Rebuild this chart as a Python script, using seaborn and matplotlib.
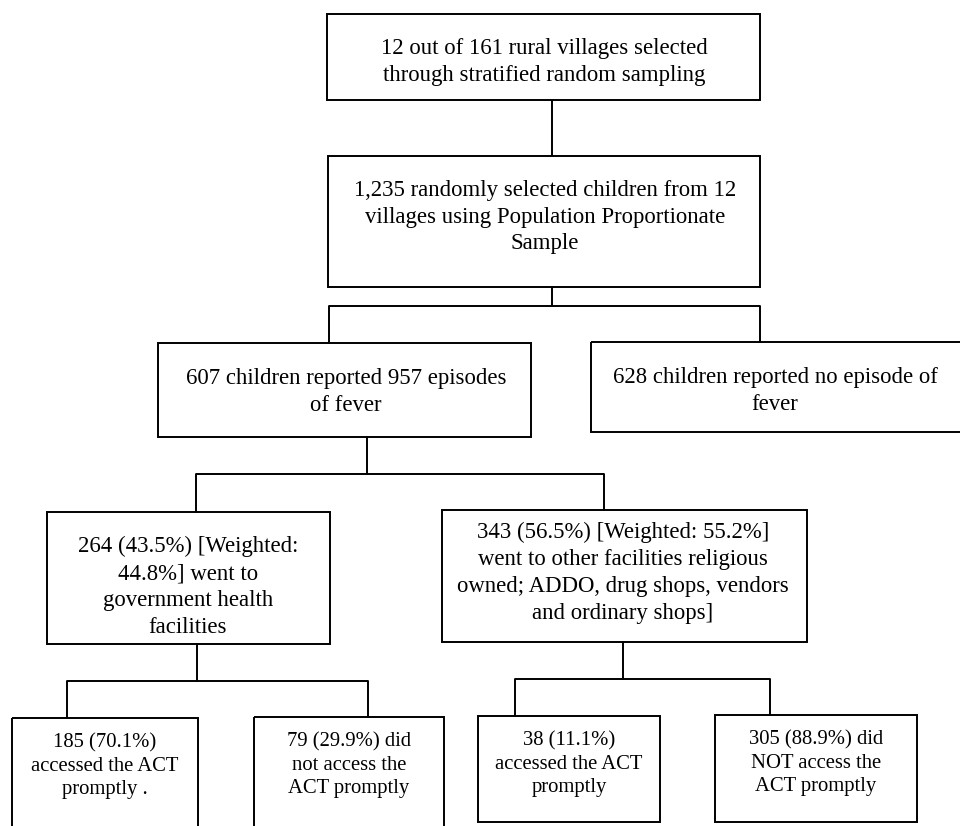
import matplotlib
matplotlib.use("Agg")
import matplotlib.pyplot as plt
from matplotlib.patches import Rectangle
import seaborn as sns

# box texts, top to bottom
level1 = ["12 out of 161 rural villages selected\nthrough stratified random sampling"]
level2 = ["1,235 randomly selected children from 12\nvillages using Population Proportionate\nSample"]
level3 = ["607 children reported 957 episodes\nof fever",
          "628 children reported no episode of\nfever"]
level4 = ["264 (43.5%) [Weighted:\n44.8%] went to\ngovernment health\nfacilities",
          "343 (56.5%) [Weighted: 55.2%]\nwent to other facilities religious\nowned; ADDO, drug shops, vendors\nand ordinary shops]"]
level5 = ["185 (70.1%)\naccessed the ACT\npromptly .",
          "79 (29.9%) did\nnot access the\nACT promptly",
          "38 (11.1%)\naccessed the ACT\npromptly",
          "305 (88.9%) did\nNOT access the\nACT promptly"]

# layout in pixel units (x0, y0, x1, y1), y grows downwards
boxes = [
    (327, 14, 760, 100),
    (328, 156, 760, 287),
    (158, 343, 531, 437),
    (591, 342, 965, 432),
    (47, 512, 330, 644),
    (442, 510, 807, 642),
    (12, 718, 198, 835),
    (254, 717, 444, 835),
    (478, 716, 660, 822),
    (715, 715, 917, 822),
]
labels = level1 + level2 + level3 + level4 + level5
# text anchor (centre x, centre y) for the upper boxes
text_pos = [(544, 62), (545, 217), (346, 392), (775, 391), (188, 587), (623, 573)]

connectors = [
    [(552, 100), (552, 156)],
    [(552, 287), (552, 306)],
    [(329, 343), (329, 306), (760, 306), (760, 342)],
    [(367, 437), (367, 474)],
    [(196, 512), (196, 474), (604, 474), (604, 510)],
    [(197, 644), (197, 681)],
    [(67, 718), (67, 681), (368, 681), (368, 717)],
    [(623, 642), (623, 679)],
    [(515, 716), (515, 679), (770, 679), (770, 715)],
]

sns.set_theme(style="white")
plt.rcParams["font.family"] = ["Liberation Serif", "DejaVu Serif"]

fig = plt.figure(figsize=(9.6, 8.26), dpi=100)
ax = fig.add_axes([0, 0, 1, 1])
ax.set_xlim(0, 960)
ax.set_ylim(826, 0)
ax.axis("off")

for i, ((x0, y0, x1, y1), txt) in enumerate(zip(boxes, labels)):
    ax.add_patch(Rectangle((x0, y0), x1 - x0, y1 - y0, fill=False,
                           edgecolor="black", linewidth=1.4))
    if i < len(text_pos):
        tx, ty = text_pos[i]
        ax.text(tx, ty, txt, ha="center", va="center", fontsize=16.4,
                linespacing=1.37, color="black")
    else:
        # bottom row: text sits near the top of the box
        ax.text((x0 + x1) / 2, y0 + 15, txt, ha="center", va="top",
                fontsize=14.9, linespacing=1.33, color="black")

for seg in connectors:
    xs = [p[0] for p in seg]
    ys = [p[1] for p in seg]
    sns.lineplot(x=xs, y=ys, ax=ax, color="black", linewidth=1.4,
                 sort=False, estimator=None)

fig.savefig("out.png", dpi=100)
